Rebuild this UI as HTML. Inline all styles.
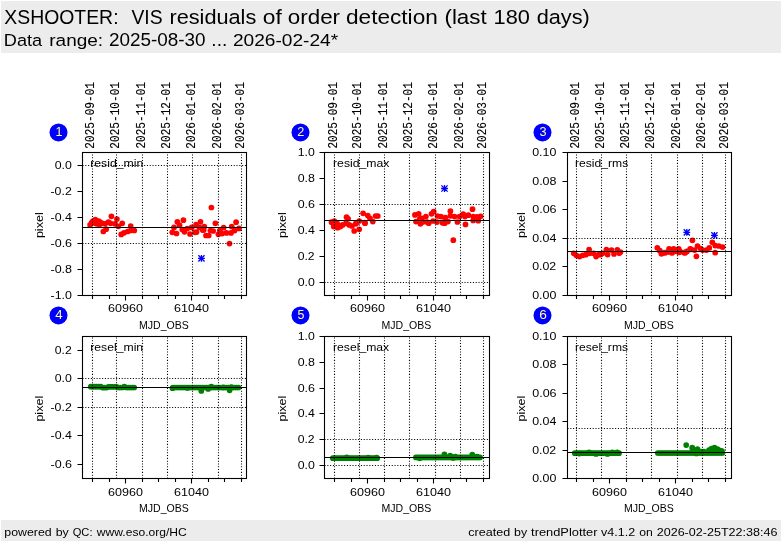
<!DOCTYPE html>
<html><head><meta charset="utf-8"><title>XSHOOTER VIS residuals</title>
<style>html,body{margin:0;padding:0;background:#fff;}body{width:782px;height:542px;overflow:hidden;font-family:"Liberation Sans",sans-serif;}svg{display:block;will-change:transform;}</style>
</head><body>
<svg width="782" height="542" viewBox="0 0 782 542"><rect x="1" y="1" width="780" height="52" fill="#ececec"/>
<rect x="1" y="520" width="780" height="21" fill="#ececec"/>
<text x="4.27" y="23.80" font-family="'Liberation Sans', sans-serif" font-size="20.28" fill="#000" textLength="114.26" lengthAdjust="spacingAndGlyphs">XSHOOTER:</text>
<text x="131.50" y="23.80" font-family="'Liberation Sans', sans-serif" font-size="20.28" fill="#000" textLength="31.12" lengthAdjust="spacingAndGlyphs">VIS</text>
<text x="169.42" y="23.80" font-family="'Liberation Sans', sans-serif" font-size="20.28" fill="#000" textLength="86.88" lengthAdjust="spacingAndGlyphs">residuals</text>
<text x="262.78" y="23.80" font-family="'Liberation Sans', sans-serif" font-size="20.28" fill="#000" textLength="19.03" lengthAdjust="spacingAndGlyphs">of</text>
<text x="287.79" y="23.80" font-family="'Liberation Sans', sans-serif" font-size="20.28" fill="#000" textLength="52.26" lengthAdjust="spacingAndGlyphs">order</text>
<text x="345.98" y="23.80" font-family="'Liberation Sans', sans-serif" font-size="20.28" fill="#000" textLength="91.83" lengthAdjust="spacingAndGlyphs">detection</text>
<text x="444.44" y="23.80" font-family="'Liberation Sans', sans-serif" font-size="20.28" fill="#000" textLength="42.24" lengthAdjust="spacingAndGlyphs">(last</text>
<text x="493.61" y="23.80" font-family="'Liberation Sans', sans-serif" font-size="20.67" fill="#000" textLength="36.33" lengthAdjust="spacingAndGlyphs">180</text>
<text x="536.70" y="23.80" font-family="'Liberation Sans', sans-serif" font-size="20.28" fill="#000" textLength="53.13" lengthAdjust="spacingAndGlyphs">days)</text>
<text x="3.84" y="46.10" font-family="'Liberation Sans', sans-serif" font-size="17.40" fill="#000" textLength="38.31" lengthAdjust="spacingAndGlyphs">Data</text>
<text x="49.26" y="46.10" font-family="'Liberation Sans', sans-serif" font-size="17.40" fill="#000" textLength="53.89" lengthAdjust="spacingAndGlyphs">range:</text>
<text x="108.98" y="46.10" font-family="'Liberation Sans', sans-serif" font-size="17.73" fill="#000" textLength="96.64" lengthAdjust="spacingAndGlyphs">2025-08-30</text>
<text x="211.39" y="46.10" font-family="'Liberation Sans', sans-serif" font-size="17.73" fill="#000" textLength="15.88" lengthAdjust="spacingAndGlyphs">...</text>
<text x="232.92" y="46.10" font-family="'Liberation Sans', sans-serif" font-size="17.40" fill="#000" textLength="105.29" lengthAdjust="spacingAndGlyphs">2026-02-24*</text>
<text x="4.25" y="535.80" font-family="'Liberation Sans', sans-serif" font-size="11.55" fill="#000" textLength="47.45" lengthAdjust="spacingAndGlyphs">powered</text>
<text x="55.72" y="535.80" font-family="'Liberation Sans', sans-serif" font-size="11.55" fill="#000" textLength="13.10" lengthAdjust="spacingAndGlyphs">by</text>
<text x="72.73" y="535.80" font-family="'Liberation Sans', sans-serif" font-size="11.55" fill="#000" textLength="19.78" lengthAdjust="spacingAndGlyphs">QC:</text>
<text x="96.87" y="535.80" font-family="'Liberation Sans', sans-serif" font-size="11.55" fill="#000" textLength="89.88" lengthAdjust="spacingAndGlyphs">www.eso.org/HC</text>
<text x="468.16" y="535.80" font-family="'Liberation Sans', sans-serif" font-size="11.55" fill="#000" textLength="41.98" lengthAdjust="spacingAndGlyphs">created</text>
<text x="514.11" y="535.80" font-family="'Liberation Sans', sans-serif" font-size="11.55" fill="#000" textLength="13.10" lengthAdjust="spacingAndGlyphs">by</text>
<text x="531.09" y="535.80" font-family="'Liberation Sans', sans-serif" font-size="11.55" fill="#000" textLength="66.39" lengthAdjust="spacingAndGlyphs">trendPlotter</text>
<text x="601.08" y="535.80" font-family="'Liberation Sans', sans-serif" font-size="11.55" fill="#000" textLength="34.06" lengthAdjust="spacingAndGlyphs">v4.1.2</text>
<text x="639.24" y="535.80" font-family="'Liberation Sans', sans-serif" font-size="11.55" fill="#000" textLength="13.56" lengthAdjust="spacingAndGlyphs">on</text>
<text x="656.68" y="535.80" font-family="'Liberation Sans', sans-serif" font-size="11.55" fill="#000" textLength="120.83" lengthAdjust="spacingAndGlyphs">2026-02-25T22:38:46</text>
<g fill="#ff0000">
<circle cx="96.5" cy="223.8" r="2.85"/>
<circle cx="99.5" cy="224.5" r="2.85"/>
<circle cx="94.0" cy="223.0" r="2.85"/>
<circle cx="90.1" cy="224.9" r="2.85"/>
<circle cx="91.7" cy="222.7" r="2.85"/>
<circle cx="93.0" cy="221.0" r="2.85"/>
<circle cx="95.3" cy="219.7" r="2.85"/>
<circle cx="98.7" cy="221.0" r="2.85"/>
<circle cx="100.0" cy="222.0" r="2.85"/>
<circle cx="102.3" cy="223.3" r="2.85"/>
<circle cx="105.0" cy="223.8" r="2.85"/>
<circle cx="103.3" cy="231.5" r="2.85"/>
<circle cx="106.1" cy="229.2" r="2.85"/>
<circle cx="108.3" cy="222.2" r="2.85"/>
<circle cx="111.4" cy="216.3" r="2.85"/>
<circle cx="110.6" cy="223.3" r="2.85"/>
<circle cx="116.9" cy="219.1" r="2.85"/>
<circle cx="115.0" cy="223.8" r="2.85"/>
<circle cx="118.4" cy="226.3" r="2.85"/>
<circle cx="122.2" cy="223.3" r="2.85"/>
<circle cx="121.2" cy="234.4" r="2.85"/>
<circle cx="124.0" cy="232.8" r="2.85"/>
<circle cx="127.6" cy="231.5" r="2.85"/>
<circle cx="130.7" cy="230.5" r="2.85"/>
<circle cx="134.3" cy="230.5" r="2.85"/>
<circle cx="130.7" cy="226.0" r="2.85"/>
<circle cx="172.3" cy="232.3" r="2.85"/>
<circle cx="174.0" cy="227.4" r="2.85"/>
<circle cx="176.5" cy="233.5" r="2.85"/>
<circle cx="177.3" cy="221.8" r="2.85"/>
<circle cx="179.5" cy="225.2" r="2.85"/>
<circle cx="183.4" cy="220.2" r="2.85"/>
<circle cx="182.3" cy="229.6" r="2.85"/>
<circle cx="184.5" cy="231.8" r="2.85"/>
<circle cx="187.2" cy="228.5" r="2.85"/>
<circle cx="190.0" cy="234.0" r="2.85"/>
<circle cx="191.7" cy="227.4" r="2.85"/>
<circle cx="195.0" cy="232.3" r="2.85"/>
<circle cx="196.1" cy="224.6" r="2.85"/>
<circle cx="200.5" cy="221.8" r="2.85"/>
<circle cx="199.4" cy="227.4" r="2.85"/>
<circle cx="202.7" cy="230.1" r="2.85"/>
<circle cx="196.6" cy="232.1" r="2.85"/>
<circle cx="204.3" cy="226.6" r="2.85"/>
<circle cx="203.7" cy="229.9" r="2.85"/>
<circle cx="206.0" cy="235.5" r="2.85"/>
<circle cx="208.7" cy="235.5" r="2.85"/>
<circle cx="210.4" cy="230.5" r="2.85"/>
<circle cx="213.2" cy="231.0" r="2.85"/>
<circle cx="215.4" cy="223.3" r="2.85"/>
<circle cx="218.4" cy="234.3" r="2.85"/>
<circle cx="219.8" cy="230.5" r="2.85"/>
<circle cx="222.1" cy="233.6" r="2.85"/>
<circle cx="223.6" cy="227.7" r="2.85"/>
<circle cx="226.5" cy="232.9" r="2.85"/>
<circle cx="231.0" cy="232.9" r="2.85"/>
<circle cx="231.7" cy="226.6" r="2.85"/>
<circle cx="236.1" cy="222.2" r="2.85"/>
<circle cx="239.1" cy="228.4" r="2.85"/>
<circle cx="234.6" cy="230.6" r="2.85"/>
<circle cx="211.4" cy="207.5" r="2.85"/>
<circle cx="229.5" cy="243.6" r="2.85"/>
</g>
<path d="M92.5 295.5V152.5M116.5 295.5V152.5M142.5 295.5V152.5M167.5 295.5V152.5M192.5 295.5V152.5M218.5 295.5V152.5M241.5 295.5V152.5M82.5 165.5H246.5M82.5 243.5H246.5" stroke="#000" stroke-width="1.1" stroke-dasharray="1.06 1.74" fill="none"/>
<path d="M82.5 227.5H246.5" stroke="#000" stroke-width="1.2" fill="none"/>
<path d="M198.04999999999998 258.4H204.85M201.45 254.99999999999997V261.79999999999995M198.35 255.29999999999998L204.54999999999998 261.5M198.35 261.5L204.54999999999998 255.29999999999998" stroke="#0000ff" stroke-width="1.3" fill="none"/>
<rect x="82.5" y="152.5" width="164.0" height="143.0" fill="none" stroke="#000" stroke-width="1.1"/>
<path d="M92.5 295.5v3.4M109.5 295.5v3.4M125.5 295.5v5.0M142.5 295.5v3.4M158.5 295.5v3.4M175.5 295.5v3.4M191.5 295.5v5.0M208.5 295.5v3.4M224.5 295.5v3.4M241.5 295.5v3.4M82.5 165.5h-5.0M82.5 191.5h-5.0M82.5 217.5h-5.0M82.5 243.5h-5.0M82.5 269.5h-5.0M82.5 295.5h-5.0" stroke="#000" stroke-width="1.1" fill="none"/>
<text x="54.78" y="168.95" font-family="'Liberation Sans', sans-serif" font-size="11.78" fill="#000" textLength="17.14" lengthAdjust="spacingAndGlyphs">0.0</text>
<text x="50.52" y="194.95" font-family="'Liberation Sans', sans-serif" font-size="11.78" fill="#000" textLength="21.23" lengthAdjust="spacingAndGlyphs">-0.2</text>
<text x="50.51" y="220.95" font-family="'Liberation Sans', sans-serif" font-size="11.78" fill="#000" textLength="21.43" lengthAdjust="spacingAndGlyphs">-0.4</text>
<text x="50.51" y="246.95" font-family="'Liberation Sans', sans-serif" font-size="11.78" fill="#000" textLength="21.60" lengthAdjust="spacingAndGlyphs">-0.6</text>
<text x="50.51" y="272.95" font-family="'Liberation Sans', sans-serif" font-size="11.78" fill="#000" textLength="21.54" lengthAdjust="spacingAndGlyphs">-0.8</text>
<text x="50.51" y="298.95" font-family="'Liberation Sans', sans-serif" font-size="11.78" fill="#000" textLength="21.43" lengthAdjust="spacingAndGlyphs">-1.0</text>
<text x="108.01" y="312.00" font-family="'Liberation Sans', sans-serif" font-size="11.78" fill="#000" textLength="34.87" lengthAdjust="spacingAndGlyphs">60960</text>
<text x="174.01" y="312.00" font-family="'Liberation Sans', sans-serif" font-size="11.78" fill="#000" textLength="34.87" lengthAdjust="spacingAndGlyphs">61040</text>
<text x="139.05" y="328.80" font-family="'Liberation Sans', sans-serif" font-size="11.55" fill="#000" textLength="49.78" lengthAdjust="spacingAndGlyphs">MJD_OBS</text>
<text x="29.90" y="225.20" font-family="'Liberation Sans', sans-serif" font-size="11.55" fill="#000" textLength="25.83" lengthAdjust="spacingAndGlyphs" transform="rotate(-90 42.80 225.20)">pixel</text>
<text x="90.20" y="166.70" font-family="'Liberation Sans', sans-serif" font-size="11.55" fill="#000" textLength="53.16" lengthAdjust="spacingAndGlyphs">resid_min</text>
<text x="93.93" y="148.65" font-family="'Liberation Mono', monospace" font-size="12.32" fill="#000" textLength="66.57" lengthAdjust="spacingAndGlyphs" transform="rotate(-90 93.90 148.65)" stroke="#000" stroke-width="0.12">2025-09-01</text>
<text x="118.93" y="148.65" font-family="'Liberation Mono', monospace" font-size="12.32" fill="#000" textLength="66.57" lengthAdjust="spacingAndGlyphs" transform="rotate(-90 118.90 148.65)" stroke="#000" stroke-width="0.12">2025-10-01</text>
<text x="144.83" y="148.65" font-family="'Liberation Mono', monospace" font-size="12.32" fill="#000" textLength="66.57" lengthAdjust="spacingAndGlyphs" transform="rotate(-90 144.80 148.65)" stroke="#000" stroke-width="0.12">2025-11-01</text>
<text x="169.73" y="148.65" font-family="'Liberation Mono', monospace" font-size="12.32" fill="#000" textLength="66.57" lengthAdjust="spacingAndGlyphs" transform="rotate(-90 169.70 148.65)" stroke="#000" stroke-width="0.12">2025-12-01</text>
<text x="194.98" y="148.65" font-family="'Liberation Mono', monospace" font-size="12.32" fill="#000" textLength="66.57" lengthAdjust="spacingAndGlyphs" transform="rotate(-90 194.95 148.65)" stroke="#000" stroke-width="0.12">2026-01-01</text>
<text x="220.73" y="148.65" font-family="'Liberation Mono', monospace" font-size="12.32" fill="#000" textLength="66.57" lengthAdjust="spacingAndGlyphs" transform="rotate(-90 220.70 148.65)" stroke="#000" stroke-width="0.12">2026-02-01</text>
<text x="244.03" y="148.65" font-family="'Liberation Mono', monospace" font-size="12.32" fill="#000" textLength="66.57" lengthAdjust="spacingAndGlyphs" transform="rotate(-90 244.00 148.65)" stroke="#000" stroke-width="0.12">2026-03-01</text>
<circle cx="58.5" cy="132.4" r="9" fill="#0000ff"/>
<text x="55.43" y="136.00" font-family="'Liberation Sans', sans-serif" font-size="13.25" fill="#ffff99" textLength="6.98" lengthAdjust="spacingAndGlyphs">1</text>
<g fill="#ff0000">
<circle cx="331.5" cy="222.2" r="2.85"/>
<circle cx="334.3" cy="221.0" r="2.85"/>
<circle cx="333.7" cy="226.6" r="2.85"/>
<circle cx="337.1" cy="223.3" r="2.85"/>
<circle cx="337.6" cy="227.7" r="2.85"/>
<circle cx="340.4" cy="226.6" r="2.85"/>
<circle cx="342.6" cy="224.9" r="2.85"/>
<circle cx="346.5" cy="217.2" r="2.85"/>
<circle cx="348.1" cy="218.8" r="2.85"/>
<circle cx="345.9" cy="223.3" r="2.85"/>
<circle cx="349.2" cy="224.9" r="2.85"/>
<circle cx="352.0" cy="226.0" r="2.85"/>
<circle cx="354.2" cy="231.0" r="2.85"/>
<circle cx="355.9" cy="223.8" r="2.85"/>
<circle cx="359.2" cy="221.0" r="2.85"/>
<circle cx="359.2" cy="229.3" r="2.85"/>
<circle cx="363.1" cy="213.3" r="2.85"/>
<circle cx="364.7" cy="222.7" r="2.85"/>
<circle cx="367.8" cy="215.5" r="2.85"/>
<circle cx="370.0" cy="218.3" r="2.85"/>
<circle cx="372.8" cy="221.6" r="2.85"/>
<circle cx="375.6" cy="216.0" r="2.85"/>
<circle cx="377.8" cy="216.0" r="2.85"/>
<circle cx="365.1" cy="223.2" r="2.85"/>
<circle cx="356.2" cy="223.2" r="2.85"/>
<circle cx="414.9" cy="214.9" r="2.85"/>
<circle cx="422.1" cy="218.3" r="2.85"/>
<circle cx="418.7" cy="213.8" r="2.85"/>
<circle cx="416.0" cy="221.6" r="2.85"/>
<circle cx="419.8" cy="218.8" r="2.85"/>
<circle cx="420.4" cy="223.8" r="2.85"/>
<circle cx="422.6" cy="222.1" r="2.85"/>
<circle cx="425.9" cy="216.6" r="2.85"/>
<circle cx="427.0" cy="222.1" r="2.85"/>
<circle cx="428.7" cy="223.2" r="2.85"/>
<circle cx="431.5" cy="213.8" r="2.85"/>
<circle cx="433.7" cy="211.6" r="2.85"/>
<circle cx="433.1" cy="221.0" r="2.85"/>
<circle cx="437.5" cy="216.0" r="2.85"/>
<circle cx="437.0" cy="222.1" r="2.85"/>
<circle cx="440.9" cy="216.6" r="2.85"/>
<circle cx="442.5" cy="222.7" r="2.85"/>
<circle cx="445.3" cy="217.7" r="2.85"/>
<circle cx="444.7" cy="223.2" r="2.85"/>
<circle cx="443.3" cy="222.4" r="2.85"/>
<circle cx="447.9" cy="221.6" r="2.85"/>
<circle cx="450.4" cy="211.2" r="2.85"/>
<circle cx="450.4" cy="215.8" r="2.85"/>
<circle cx="454.5" cy="216.6" r="2.85"/>
<circle cx="457.4" cy="222.0" r="2.85"/>
<circle cx="459.5" cy="216.6" r="2.85"/>
<circle cx="463.2" cy="214.1" r="2.85"/>
<circle cx="464.9" cy="216.6" r="2.85"/>
<circle cx="465.5" cy="224.4" r="2.85"/>
<circle cx="468.3" cy="215.2" r="2.85"/>
<circle cx="472.5" cy="209.2" r="2.85"/>
<circle cx="473.2" cy="216.5" r="2.85"/>
<circle cx="473.2" cy="220.5" r="2.85"/>
<circle cx="476.8" cy="216.9" r="2.85"/>
<circle cx="478.3" cy="220.7" r="2.85"/>
<circle cx="480.6" cy="216.3" r="2.85"/>
<circle cx="453.3" cy="240.2" r="2.85"/>
</g>
<path d="M334.5 295.5V152.5M359.5 295.5V152.5M384.5 295.5V152.5M409.5 295.5V152.5M435.5 295.5V152.5M460.5 295.5V152.5M483.5 295.5V152.5M324.5 204.5H489.5M324.5 282.5H489.5" stroke="#000" stroke-width="1.1" stroke-dasharray="1.06 1.74" fill="none"/>
<path d="M324.5 220.5H489.5" stroke="#000" stroke-width="1.2" fill="none"/>
<path d="M441.1 188.5H447.9M444.5 185.1V191.9M441.4 185.4L447.6 191.6M441.4 191.6L447.6 185.4" stroke="#0000ff" stroke-width="1.3" fill="none"/>
<rect x="324.5" y="152.5" width="165.0" height="143.0" fill="none" stroke="#000" stroke-width="1.1"/>
<path d="M334.5 295.5v3.4M351.5 295.5v3.4M367.5 295.5v5.0M384.5 295.5v3.4M400.5 295.5v3.4M417.5 295.5v3.4M433.5 295.5v5.0M450.5 295.5v3.4M466.5 295.5v3.4M483.5 295.5v3.4M324.5 152.5h-5.0M324.5 178.5h-5.0M324.5 204.5h-5.0M324.5 230.5h-5.0M324.5 256.5h-5.0M324.5 282.5h-5.0" stroke="#000" stroke-width="1.1" fill="none"/>
<text x="297.76" y="155.95" font-family="'Liberation Sans', sans-serif" font-size="11.78" fill="#000" textLength="17.05" lengthAdjust="spacingAndGlyphs">1.0</text>
<text x="297.67" y="181.95" font-family="'Liberation Sans', sans-serif" font-size="11.78" fill="#000" textLength="17.25" lengthAdjust="spacingAndGlyphs">0.8</text>
<text x="297.67" y="207.95" font-family="'Liberation Sans', sans-serif" font-size="11.78" fill="#000" textLength="17.31" lengthAdjust="spacingAndGlyphs">0.6</text>
<text x="297.68" y="233.95" font-family="'Liberation Sans', sans-serif" font-size="11.78" fill="#000" textLength="17.14" lengthAdjust="spacingAndGlyphs">0.4</text>
<text x="297.68" y="259.95" font-family="'Liberation Sans', sans-serif" font-size="11.78" fill="#000" textLength="16.94" lengthAdjust="spacingAndGlyphs">0.2</text>
<text x="297.68" y="285.95" font-family="'Liberation Sans', sans-serif" font-size="11.78" fill="#000" textLength="17.14" lengthAdjust="spacingAndGlyphs">0.0</text>
<text x="350.01" y="312.00" font-family="'Liberation Sans', sans-serif" font-size="11.78" fill="#000" textLength="34.87" lengthAdjust="spacingAndGlyphs">60960</text>
<text x="416.01" y="312.00" font-family="'Liberation Sans', sans-serif" font-size="11.78" fill="#000" textLength="34.87" lengthAdjust="spacingAndGlyphs">61040</text>
<text x="381.55" y="328.80" font-family="'Liberation Sans', sans-serif" font-size="11.55" fill="#000" textLength="49.78" lengthAdjust="spacingAndGlyphs">MJD_OBS</text>
<text x="273.00" y="225.20" font-family="'Liberation Sans', sans-serif" font-size="11.55" fill="#000" textLength="25.83" lengthAdjust="spacingAndGlyphs" transform="rotate(-90 285.90 225.20)">pixel</text>
<text x="333.01" y="166.70" font-family="'Liberation Sans', sans-serif" font-size="11.55" fill="#000" textLength="56.43" lengthAdjust="spacingAndGlyphs">resid_max</text>
<text x="336.83" y="148.65" font-family="'Liberation Mono', monospace" font-size="12.32" fill="#000" textLength="66.57" lengthAdjust="spacingAndGlyphs" transform="rotate(-90 336.80 148.65)" stroke="#000" stroke-width="0.12">2025-09-01</text>
<text x="360.93" y="148.65" font-family="'Liberation Mono', monospace" font-size="12.32" fill="#000" textLength="66.57" lengthAdjust="spacingAndGlyphs" transform="rotate(-90 360.90 148.65)" stroke="#000" stroke-width="0.12">2025-10-01</text>
<text x="386.83" y="148.65" font-family="'Liberation Mono', monospace" font-size="12.32" fill="#000" textLength="66.57" lengthAdjust="spacingAndGlyphs" transform="rotate(-90 386.80 148.65)" stroke="#000" stroke-width="0.12">2025-11-01</text>
<text x="411.73" y="148.65" font-family="'Liberation Mono', monospace" font-size="12.32" fill="#000" textLength="66.57" lengthAdjust="spacingAndGlyphs" transform="rotate(-90 411.70 148.65)" stroke="#000" stroke-width="0.12">2025-12-01</text>
<text x="436.98" y="148.65" font-family="'Liberation Mono', monospace" font-size="12.32" fill="#000" textLength="66.57" lengthAdjust="spacingAndGlyphs" transform="rotate(-90 436.95 148.65)" stroke="#000" stroke-width="0.12">2026-01-01</text>
<text x="462.73" y="148.65" font-family="'Liberation Mono', monospace" font-size="12.32" fill="#000" textLength="66.57" lengthAdjust="spacingAndGlyphs" transform="rotate(-90 462.70 148.65)" stroke="#000" stroke-width="0.12">2026-02-01</text>
<text x="486.03" y="148.65" font-family="'Liberation Mono', monospace" font-size="12.32" fill="#000" textLength="66.57" lengthAdjust="spacingAndGlyphs" transform="rotate(-90 486.00 148.65)" stroke="#000" stroke-width="0.12">2026-03-01</text>
<circle cx="300.5" cy="132.4" r="9" fill="#0000ff"/>
<text x="297.30" y="136.00" font-family="'Liberation Sans', sans-serif" font-size="13.25" fill="#ffff99" textLength="7.07" lengthAdjust="spacingAndGlyphs">2</text>
<g fill="#ff0000">
<circle cx="573.8" cy="253.4" r="2.85"/>
<circle cx="576.3" cy="255.3" r="2.85"/>
<circle cx="579.5" cy="256.6" r="2.85"/>
<circle cx="582.7" cy="255.3" r="2.85"/>
<circle cx="585.9" cy="254.7" r="2.85"/>
<circle cx="589.1" cy="249.6" r="2.85"/>
<circle cx="589.7" cy="253.4" r="2.85"/>
<circle cx="593.6" cy="253.4" r="2.85"/>
<circle cx="596.1" cy="256.6" r="2.85"/>
<circle cx="598.7" cy="254.7" r="2.85"/>
<circle cx="600.6" cy="254.6" r="2.85"/>
<circle cx="602.5" cy="253.4" r="2.85"/>
<circle cx="606.4" cy="249.7" r="2.85"/>
<circle cx="607.6" cy="254.6" r="2.85"/>
<circle cx="611.5" cy="250.1" r="2.85"/>
<circle cx="614.0" cy="254.0" r="2.85"/>
<circle cx="617.3" cy="249.8" r="2.85"/>
<circle cx="619.2" cy="253.3" r="2.85"/>
<circle cx="620.5" cy="252.1" r="2.85"/>
<circle cx="657.3" cy="247.8" r="2.85"/>
<circle cx="659.8" cy="250.7" r="2.85"/>
<circle cx="661.4" cy="253.9" r="2.85"/>
<circle cx="664.0" cy="252.6" r="2.85"/>
<circle cx="667.2" cy="252.0" r="2.85"/>
<circle cx="669.1" cy="248.8" r="2.85"/>
<circle cx="670.4" cy="252.0" r="2.85"/>
<circle cx="673.6" cy="248.8" r="2.85"/>
<circle cx="674.9" cy="251.3" r="2.85"/>
<circle cx="678.7" cy="248.8" r="2.85"/>
<circle cx="680.0" cy="251.3" r="2.85"/>
<circle cx="683.8" cy="252.6" r="2.85"/>
<circle cx="686.5" cy="251.5" r="2.85"/>
<circle cx="687.0" cy="251.3" r="2.85"/>
<circle cx="690.2" cy="248.8" r="2.85"/>
<circle cx="690.9" cy="249.3" r="2.85"/>
<circle cx="692.4" cy="240.3" r="2.85"/>
<circle cx="694.6" cy="250.1" r="2.85"/>
<circle cx="697.5" cy="246.0" r="2.85"/>
<circle cx="696.4" cy="256.3" r="2.85"/>
<circle cx="700.5" cy="248.6" r="2.85"/>
<circle cx="702.7" cy="250.1" r="2.85"/>
<circle cx="706.4" cy="250.1" r="2.85"/>
<circle cx="709.3" cy="247.9" r="2.85"/>
<circle cx="712.3" cy="242.3" r="2.85"/>
<circle cx="715.2" cy="245.6" r="2.85"/>
<circle cx="715.2" cy="252.7" r="2.85"/>
<circle cx="718.9" cy="246.0" r="2.85"/>
<circle cx="722.6" cy="247.1" r="2.85"/>
<circle cx="665.0" cy="253.0" r="2.85"/>
<circle cx="672.0" cy="253.0" r="2.85"/>
<circle cx="679.0" cy="252.5" r="2.85"/>
<circle cx="685.0" cy="253.0" r="2.85"/>
</g>
<path d="M576.5 295.5V152.5M601.5 295.5V152.5M626.5 295.5V152.5M651.5 295.5V152.5M677.5 295.5V152.5M702.5 295.5V152.5M725.5 295.5V152.5M567.5 238.5H731.5" stroke="#000" stroke-width="1.1" stroke-dasharray="1.06 1.74" fill="none"/>
<path d="M567.5 251.5H731.5" stroke="#000" stroke-width="1.2" fill="none"/>
<path d="M683.4 232.4H690.1999999999999M686.8 229.0V235.8M683.6999999999999 229.3L689.9 235.5M683.6999999999999 235.5L689.9 229.3" stroke="#0000ff" stroke-width="1.3" fill="none"/>
<path d="M711.0 235.3H717.8M714.4 231.9V238.70000000000002M711.3 232.20000000000002L717.5 238.4M711.3 238.4L717.5 232.20000000000002" stroke="#0000ff" stroke-width="1.3" fill="none"/>
<rect x="567.5" y="152.5" width="164.0" height="143.0" fill="none" stroke="#000" stroke-width="1.1"/>
<path d="M576.5 295.5v3.4M593.5 295.5v3.4M609.5 295.5v5.0M626.5 295.5v3.4M642.5 295.5v3.4M659.5 295.5v3.4M675.5 295.5v5.0M692.5 295.5v3.4M708.5 295.5v3.4M725.5 295.5v3.4M567.5 152.5h-5.0M567.5 181.5h-5.0M567.5 209.5h-5.0M567.5 238.5h-5.0M567.5 266.5h-5.0M567.5 295.5h-5.0" stroke="#000" stroke-width="1.1" fill="none"/>
<text x="532.21" y="155.95" font-family="'Liberation Sans', sans-serif" font-size="11.78" fill="#000" textLength="24.21" lengthAdjust="spacingAndGlyphs">0.10</text>
<text x="532.21" y="184.95" font-family="'Liberation Sans', sans-serif" font-size="11.78" fill="#000" textLength="24.32" lengthAdjust="spacingAndGlyphs">0.08</text>
<text x="532.21" y="212.95" font-family="'Liberation Sans', sans-serif" font-size="11.78" fill="#000" textLength="24.37" lengthAdjust="spacingAndGlyphs">0.06</text>
<text x="532.21" y="241.95" font-family="'Liberation Sans', sans-serif" font-size="11.78" fill="#000" textLength="24.21" lengthAdjust="spacingAndGlyphs">0.04</text>
<text x="532.21" y="269.95" font-family="'Liberation Sans', sans-serif" font-size="11.78" fill="#000" textLength="24.01" lengthAdjust="spacingAndGlyphs">0.02</text>
<text x="532.21" y="298.95" font-family="'Liberation Sans', sans-serif" font-size="11.78" fill="#000" textLength="24.21" lengthAdjust="spacingAndGlyphs">0.00</text>
<text x="592.01" y="312.00" font-family="'Liberation Sans', sans-serif" font-size="11.78" fill="#000" textLength="34.87" lengthAdjust="spacingAndGlyphs">60960</text>
<text x="658.01" y="312.00" font-family="'Liberation Sans', sans-serif" font-size="11.78" fill="#000" textLength="34.87" lengthAdjust="spacingAndGlyphs">61040</text>
<text x="624.05" y="328.80" font-family="'Liberation Sans', sans-serif" font-size="11.55" fill="#000" textLength="49.78" lengthAdjust="spacingAndGlyphs">MJD_OBS</text>
<text x="512.10" y="225.20" font-family="'Liberation Sans', sans-serif" font-size="11.55" fill="#000" textLength="25.83" lengthAdjust="spacingAndGlyphs" transform="rotate(-90 525.00 225.20)">pixel</text>
<text x="575.01" y="166.70" font-family="'Liberation Sans', sans-serif" font-size="11.55" fill="#000" textLength="53.20" lengthAdjust="spacingAndGlyphs">resid_rms</text>
<text x="578.83" y="148.65" font-family="'Liberation Mono', monospace" font-size="12.32" fill="#000" textLength="66.57" lengthAdjust="spacingAndGlyphs" transform="rotate(-90 578.80 148.65)" stroke="#000" stroke-width="0.12">2025-09-01</text>
<text x="604.03" y="148.65" font-family="'Liberation Mono', monospace" font-size="12.32" fill="#000" textLength="66.57" lengthAdjust="spacingAndGlyphs" transform="rotate(-90 604.00 148.65)" stroke="#000" stroke-width="0.12">2025-10-01</text>
<text x="628.83" y="148.65" font-family="'Liberation Mono', monospace" font-size="12.32" fill="#000" textLength="66.57" lengthAdjust="spacingAndGlyphs" transform="rotate(-90 628.80 148.65)" stroke="#000" stroke-width="0.12">2025-11-01</text>
<text x="653.73" y="148.65" font-family="'Liberation Mono', monospace" font-size="12.32" fill="#000" textLength="66.57" lengthAdjust="spacingAndGlyphs" transform="rotate(-90 653.70 148.65)" stroke="#000" stroke-width="0.12">2025-12-01</text>
<text x="680.23" y="148.65" font-family="'Liberation Mono', monospace" font-size="12.32" fill="#000" textLength="66.57" lengthAdjust="spacingAndGlyphs" transform="rotate(-90 680.20 148.65)" stroke="#000" stroke-width="0.12">2026-01-01</text>
<text x="704.73" y="148.65" font-family="'Liberation Mono', monospace" font-size="12.32" fill="#000" textLength="66.57" lengthAdjust="spacingAndGlyphs" transform="rotate(-90 704.70 148.65)" stroke="#000" stroke-width="0.12">2026-02-01</text>
<text x="728.03" y="148.65" font-family="'Liberation Mono', monospace" font-size="12.32" fill="#000" textLength="66.57" lengthAdjust="spacingAndGlyphs" transform="rotate(-90 728.00 148.65)" stroke="#000" stroke-width="0.12">2026-03-01</text>
<circle cx="542.5" cy="132.4" r="9" fill="#0000ff"/>
<text x="539.49" y="136.00" font-family="'Liberation Sans', sans-serif" font-size="13.25" fill="#ffff99" textLength="7.08" lengthAdjust="spacingAndGlyphs">3</text>
<g fill="#008000">
<circle cx="90.8" cy="386.7" r="2.85"/>
<circle cx="92.8" cy="386.7" r="2.85"/>
<circle cx="94.8" cy="386.7" r="2.85"/>
<circle cx="96.7" cy="386.7" r="2.85"/>
<circle cx="98.7" cy="386.7" r="2.85"/>
<circle cx="100.7" cy="386.7" r="2.85"/>
<circle cx="102.6" cy="387.6" r="2.85"/>
<circle cx="104.6" cy="387.6" r="2.85"/>
<circle cx="106.6" cy="387.6" r="2.85"/>
<circle cx="108.5" cy="386.8" r="2.85"/>
<circle cx="110.5" cy="386.8" r="2.85"/>
<circle cx="112.5" cy="386.8" r="2.85"/>
<circle cx="114.5" cy="386.8" r="2.85"/>
<circle cx="116.5" cy="386.8" r="2.85"/>
<circle cx="118.4" cy="387.5" r="2.85"/>
<circle cx="120.4" cy="387.5" r="2.85"/>
<circle cx="122.4" cy="387.5" r="2.85"/>
<circle cx="124.3" cy="386.6" r="2.85"/>
<circle cx="126.3" cy="387.5" r="2.85"/>
<circle cx="128.3" cy="387.5" r="2.85"/>
<circle cx="130.2" cy="387.5" r="2.85"/>
<circle cx="132.2" cy="387.5" r="2.85"/>
<circle cx="134.2" cy="387.5" r="2.85"/>
<circle cx="173.0" cy="387.5" r="2.85"/>
<circle cx="175.0" cy="387.5" r="2.85"/>
<circle cx="177.0" cy="387.5" r="2.85"/>
<circle cx="178.9" cy="387.5" r="2.85"/>
<circle cx="180.9" cy="387.5" r="2.85"/>
<circle cx="182.9" cy="387.5" r="2.85"/>
<circle cx="184.9" cy="387.5" r="2.85"/>
<circle cx="186.9" cy="387.5" r="2.85"/>
<circle cx="188.9" cy="387.5" r="2.85"/>
<circle cx="190.9" cy="387.5" r="2.85"/>
<circle cx="192.8" cy="387.5" r="2.85"/>
<circle cx="194.8" cy="387.5" r="2.85"/>
<circle cx="196.8" cy="387.5" r="2.85"/>
<circle cx="198.8" cy="387.5" r="2.85"/>
<circle cx="200.8" cy="387.5" r="2.85"/>
<circle cx="202.8" cy="387.5" r="2.85"/>
<circle cx="204.8" cy="387.5" r="2.85"/>
<circle cx="206.7" cy="387.5" r="2.85"/>
<circle cx="208.7" cy="387.5" r="2.85"/>
<circle cx="210.7" cy="387.5" r="2.85"/>
<circle cx="212.7" cy="387.5" r="2.85"/>
<circle cx="214.7" cy="387.5" r="2.85"/>
<circle cx="216.7" cy="387.5" r="2.85"/>
<circle cx="218.7" cy="387.5" r="2.85"/>
<circle cx="220.6" cy="387.5" r="2.85"/>
<circle cx="222.6" cy="387.5" r="2.85"/>
<circle cx="224.6" cy="387.5" r="2.85"/>
<circle cx="226.6" cy="387.5" r="2.85"/>
<circle cx="228.6" cy="387.5" r="2.85"/>
<circle cx="230.6" cy="387.5" r="2.85"/>
<circle cx="232.6" cy="387.5" r="2.85"/>
<circle cx="234.5" cy="387.5" r="2.85"/>
<circle cx="236.5" cy="387.5" r="2.85"/>
<circle cx="238.5" cy="387.5" r="2.85"/>
<circle cx="172.5" cy="388.2" r="2.85"/>
<circle cx="187.5" cy="388.0" r="2.85"/>
<circle cx="201.3" cy="391.0" r="2.85"/>
<circle cx="208.2" cy="389.0" r="2.85"/>
<circle cx="211.3" cy="386.5" r="2.85"/>
<circle cx="223.4" cy="387.4" r="2.85"/>
<circle cx="229.6" cy="390.3" r="2.85"/>
<circle cx="231.3" cy="387.2" r="2.85"/>
</g>
<path d="M92.5 478.5V336.5M116.5 478.5V336.5M142.5 478.5V336.5M167.5 478.5V336.5M192.5 478.5V336.5M218.5 478.5V336.5M241.5 478.5V336.5M82.5 378.5H246.5M82.5 407.5H246.5" stroke="#000" stroke-width="1.1" stroke-dasharray="1.06 1.74" fill="none"/>
<path d="M82.5 387.5H246.5" stroke="#000" stroke-width="1.2" fill="none"/>
<rect x="82.5" y="336.5" width="164.0" height="142.0" fill="none" stroke="#000" stroke-width="1.1"/>
<path d="M92.5 478.5v3.4M109.5 478.5v3.4M125.5 478.5v5.0M142.5 478.5v3.4M158.5 478.5v3.4M175.5 478.5v3.4M191.5 478.5v5.0M208.5 478.5v3.4M224.5 478.5v3.4M241.5 478.5v3.4M82.5 350.5h-5.0M82.5 378.5h-5.0M82.5 407.5h-5.0M82.5 435.5h-5.0M82.5 464.5h-5.0" stroke="#000" stroke-width="1.1" fill="none"/>
<text x="54.78" y="353.95" font-family="'Liberation Sans', sans-serif" font-size="11.78" fill="#000" textLength="16.94" lengthAdjust="spacingAndGlyphs">0.2</text>
<text x="54.78" y="381.95" font-family="'Liberation Sans', sans-serif" font-size="11.78" fill="#000" textLength="17.14" lengthAdjust="spacingAndGlyphs">0.0</text>
<text x="50.52" y="410.95" font-family="'Liberation Sans', sans-serif" font-size="11.78" fill="#000" textLength="21.23" lengthAdjust="spacingAndGlyphs">-0.2</text>
<text x="50.51" y="438.95" font-family="'Liberation Sans', sans-serif" font-size="11.78" fill="#000" textLength="21.43" lengthAdjust="spacingAndGlyphs">-0.4</text>
<text x="50.51" y="467.95" font-family="'Liberation Sans', sans-serif" font-size="11.78" fill="#000" textLength="21.60" lengthAdjust="spacingAndGlyphs">-0.6</text>
<text x="108.01" y="495.70" font-family="'Liberation Sans', sans-serif" font-size="11.78" fill="#000" textLength="34.87" lengthAdjust="spacingAndGlyphs">60960</text>
<text x="174.01" y="495.70" font-family="'Liberation Sans', sans-serif" font-size="11.78" fill="#000" textLength="34.87" lengthAdjust="spacingAndGlyphs">61040</text>
<text x="139.05" y="511.90" font-family="'Liberation Sans', sans-serif" font-size="11.55" fill="#000" textLength="49.78" lengthAdjust="spacingAndGlyphs">MJD_OBS</text>
<text x="29.90" y="408.70" font-family="'Liberation Sans', sans-serif" font-size="11.55" fill="#000" textLength="25.83" lengthAdjust="spacingAndGlyphs" transform="rotate(-90 42.80 408.70)">pixel</text>
<text x="90.21" y="350.70" font-family="'Liberation Sans', sans-serif" font-size="11.55" fill="#000" textLength="52.95" lengthAdjust="spacingAndGlyphs">resel_min</text>
<circle cx="58.5" cy="315.4" r="9" fill="#0000ff"/>
<text x="55.32" y="319.00" font-family="'Liberation Sans', sans-serif" font-size="13.25" fill="#ffff99" textLength="7.37" lengthAdjust="spacingAndGlyphs">4</text>
<g fill="#008000">
<circle cx="332.8" cy="458.2" r="2.85"/>
<circle cx="334.8" cy="458.2" r="2.85"/>
<circle cx="336.8" cy="458.2" r="2.85"/>
<circle cx="338.9" cy="458.2" r="2.85"/>
<circle cx="340.9" cy="458.2" r="2.85"/>
<circle cx="342.9" cy="458.2" r="2.85"/>
<circle cx="344.9" cy="458.2" r="2.85"/>
<circle cx="346.9" cy="458.2" r="2.85"/>
<circle cx="348.9" cy="458.2" r="2.85"/>
<circle cx="351.0" cy="458.2" r="2.85"/>
<circle cx="353.0" cy="458.2" r="2.85"/>
<circle cx="355.0" cy="458.2" r="2.85"/>
<circle cx="357.0" cy="458.2" r="2.85"/>
<circle cx="359.0" cy="458.2" r="2.85"/>
<circle cx="361.1" cy="458.2" r="2.85"/>
<circle cx="363.1" cy="458.2" r="2.85"/>
<circle cx="365.1" cy="458.2" r="2.85"/>
<circle cx="367.1" cy="458.2" r="2.85"/>
<circle cx="369.1" cy="458.2" r="2.85"/>
<circle cx="371.1" cy="458.2" r="2.85"/>
<circle cx="373.2" cy="458.2" r="2.85"/>
<circle cx="375.2" cy="458.2" r="2.85"/>
<circle cx="377.2" cy="458.2" r="2.85"/>
<circle cx="346.7" cy="457.4" r="2.85"/>
<circle cx="368.2" cy="457.7" r="2.85"/>
<circle cx="376.6" cy="457.7" r="2.85"/>
<circle cx="415.9" cy="457.4" r="2.85"/>
<circle cx="417.9" cy="457.4" r="2.85"/>
<circle cx="419.9" cy="457.4" r="2.85"/>
<circle cx="421.9" cy="457.4" r="2.85"/>
<circle cx="423.9" cy="457.4" r="2.85"/>
<circle cx="425.9" cy="457.4" r="2.85"/>
<circle cx="427.9" cy="457.4" r="2.85"/>
<circle cx="429.9" cy="457.4" r="2.85"/>
<circle cx="431.9" cy="457.4" r="2.85"/>
<circle cx="433.9" cy="457.4" r="2.85"/>
<circle cx="435.9" cy="457.4" r="2.85"/>
<circle cx="437.9" cy="457.4" r="2.85"/>
<circle cx="439.9" cy="457.4" r="2.85"/>
<circle cx="441.9" cy="457.4" r="2.85"/>
<circle cx="443.9" cy="457.4" r="2.85"/>
<circle cx="445.9" cy="457.4" r="2.85"/>
<circle cx="447.9" cy="457.4" r="2.85"/>
<circle cx="449.9" cy="457.4" r="2.85"/>
<circle cx="452.0" cy="457.4" r="2.85"/>
<circle cx="454.0" cy="457.4" r="2.85"/>
<circle cx="456.0" cy="457.4" r="2.85"/>
<circle cx="458.0" cy="457.4" r="2.85"/>
<circle cx="460.0" cy="457.4" r="2.85"/>
<circle cx="462.0" cy="457.4" r="2.85"/>
<circle cx="464.0" cy="457.4" r="2.85"/>
<circle cx="466.0" cy="457.4" r="2.85"/>
<circle cx="468.0" cy="457.4" r="2.85"/>
<circle cx="470.0" cy="457.4" r="2.85"/>
<circle cx="472.0" cy="457.4" r="2.85"/>
<circle cx="474.0" cy="457.4" r="2.85"/>
<circle cx="476.0" cy="457.4" r="2.85"/>
<circle cx="478.0" cy="457.4" r="2.85"/>
<circle cx="480.0" cy="457.4" r="2.85"/>
<circle cx="444.4" cy="454.4" r="2.85"/>
<circle cx="450.2" cy="455.6" r="2.85"/>
<circle cx="455.3" cy="456.5" r="2.85"/>
<circle cx="472.3" cy="454.6" r="2.85"/>
<circle cx="477.1" cy="456.5" r="2.85"/>
<circle cx="419.7" cy="458.3" r="2.85"/>
<circle cx="453.2" cy="458.0" r="2.85"/>
</g>
<path d="M334.5 478.5V336.5M359.5 478.5V336.5M384.5 478.5V336.5M409.5 478.5V336.5M435.5 478.5V336.5M460.5 478.5V336.5M483.5 478.5V336.5M324.5 439.5H489.5M324.5 465.5H489.5" stroke="#000" stroke-width="1.1" stroke-dasharray="1.06 1.74" fill="none"/>
<path d="M324.5 457.5H489.5" stroke="#000" stroke-width="1.2" fill="none"/>
<rect x="324.5" y="336.5" width="165.0" height="142.0" fill="none" stroke="#000" stroke-width="1.1"/>
<path d="M334.5 478.5v3.4M351.5 478.5v3.4M367.5 478.5v5.0M384.5 478.5v3.4M400.5 478.5v3.4M417.5 478.5v3.4M433.5 478.5v5.0M450.5 478.5v3.4M466.5 478.5v3.4M483.5 478.5v3.4M324.5 336.5h-5.0M324.5 362.5h-5.0M324.5 388.5h-5.0M324.5 413.5h-5.0M324.5 439.5h-5.0M324.5 465.5h-5.0" stroke="#000" stroke-width="1.1" fill="none"/>
<text x="297.76" y="339.95" font-family="'Liberation Sans', sans-serif" font-size="11.78" fill="#000" textLength="17.05" lengthAdjust="spacingAndGlyphs">1.0</text>
<text x="297.67" y="365.95" font-family="'Liberation Sans', sans-serif" font-size="11.78" fill="#000" textLength="17.25" lengthAdjust="spacingAndGlyphs">0.8</text>
<text x="297.67" y="391.95" font-family="'Liberation Sans', sans-serif" font-size="11.78" fill="#000" textLength="17.31" lengthAdjust="spacingAndGlyphs">0.6</text>
<text x="297.68" y="416.95" font-family="'Liberation Sans', sans-serif" font-size="11.78" fill="#000" textLength="17.14" lengthAdjust="spacingAndGlyphs">0.4</text>
<text x="297.68" y="442.95" font-family="'Liberation Sans', sans-serif" font-size="11.78" fill="#000" textLength="16.94" lengthAdjust="spacingAndGlyphs">0.2</text>
<text x="297.68" y="468.95" font-family="'Liberation Sans', sans-serif" font-size="11.78" fill="#000" textLength="17.14" lengthAdjust="spacingAndGlyphs">0.0</text>
<text x="350.01" y="495.70" font-family="'Liberation Sans', sans-serif" font-size="11.78" fill="#000" textLength="34.87" lengthAdjust="spacingAndGlyphs">60960</text>
<text x="416.01" y="495.70" font-family="'Liberation Sans', sans-serif" font-size="11.78" fill="#000" textLength="34.87" lengthAdjust="spacingAndGlyphs">61040</text>
<text x="381.55" y="511.90" font-family="'Liberation Sans', sans-serif" font-size="11.55" fill="#000" textLength="49.78" lengthAdjust="spacingAndGlyphs">MJD_OBS</text>
<text x="273.00" y="408.70" font-family="'Liberation Sans', sans-serif" font-size="11.55" fill="#000" textLength="25.83" lengthAdjust="spacingAndGlyphs" transform="rotate(-90 285.90 408.70)">pixel</text>
<text x="333.01" y="350.70" font-family="'Liberation Sans', sans-serif" font-size="11.55" fill="#000" textLength="56.18" lengthAdjust="spacingAndGlyphs">resel_max</text>
<circle cx="300.5" cy="315.4" r="9" fill="#0000ff"/>
<text x="297.50" y="319.00" font-family="'Liberation Sans', sans-serif" font-size="13.25" fill="#ffff99" textLength="6.90" lengthAdjust="spacingAndGlyphs">5</text>
<g fill="#008000">
<circle cx="574.8" cy="453.2" r="2.85"/>
<circle cx="576.8" cy="453.2" r="2.85"/>
<circle cx="578.8" cy="453.2" r="2.85"/>
<circle cx="580.8" cy="453.2" r="2.85"/>
<circle cx="582.8" cy="453.2" r="2.85"/>
<circle cx="584.9" cy="453.2" r="2.85"/>
<circle cx="586.9" cy="453.2" r="2.85"/>
<circle cx="588.9" cy="453.2" r="2.85"/>
<circle cx="590.9" cy="453.2" r="2.85"/>
<circle cx="592.9" cy="453.2" r="2.85"/>
<circle cx="594.9" cy="453.2" r="2.85"/>
<circle cx="596.9" cy="453.2" r="2.85"/>
<circle cx="598.9" cy="453.2" r="2.85"/>
<circle cx="600.9" cy="453.2" r="2.85"/>
<circle cx="602.9" cy="453.2" r="2.85"/>
<circle cx="604.9" cy="453.2" r="2.85"/>
<circle cx="607.0" cy="453.2" r="2.85"/>
<circle cx="609.0" cy="453.2" r="2.85"/>
<circle cx="611.0" cy="453.2" r="2.85"/>
<circle cx="613.0" cy="453.2" r="2.85"/>
<circle cx="615.0" cy="453.2" r="2.85"/>
<circle cx="617.0" cy="453.2" r="2.85"/>
<circle cx="619.0" cy="453.2" r="2.85"/>
<circle cx="589.1" cy="452.4" r="2.85"/>
<circle cx="579.3" cy="453.6" r="2.85"/>
<circle cx="596.1" cy="454.0" r="2.85"/>
<circle cx="607.4" cy="454.0" r="2.85"/>
<circle cx="612.3" cy="452.4" r="2.85"/>
<circle cx="617.2" cy="452.4" r="2.85"/>
<circle cx="657.8" cy="453.0" r="2.85"/>
<circle cx="659.8" cy="453.0" r="2.85"/>
<circle cx="661.8" cy="453.0" r="2.85"/>
<circle cx="663.9" cy="453.0" r="2.85"/>
<circle cx="665.9" cy="453.0" r="2.85"/>
<circle cx="667.9" cy="453.0" r="2.85"/>
<circle cx="669.9" cy="453.0" r="2.85"/>
<circle cx="671.9" cy="453.0" r="2.85"/>
<circle cx="673.9" cy="453.0" r="2.85"/>
<circle cx="675.9" cy="453.0" r="2.85"/>
<circle cx="678.0" cy="453.0" r="2.85"/>
<circle cx="680.0" cy="453.0" r="2.85"/>
<circle cx="682.0" cy="453.0" r="2.85"/>
<circle cx="684.0" cy="453.0" r="2.85"/>
<circle cx="686.0" cy="453.0" r="2.85"/>
<circle cx="688.0" cy="453.0" r="2.85"/>
<circle cx="690.0" cy="453.0" r="2.85"/>
<circle cx="692.1" cy="453.0" r="2.85"/>
<circle cx="694.1" cy="453.0" r="2.85"/>
<circle cx="696.1" cy="453.0" r="2.85"/>
<circle cx="698.1" cy="453.0" r="2.85"/>
<circle cx="700.1" cy="453.0" r="2.85"/>
<circle cx="702.1" cy="453.0" r="2.85"/>
<circle cx="704.2" cy="453.0" r="2.85"/>
<circle cx="706.2" cy="453.0" r="2.85"/>
<circle cx="708.2" cy="453.0" r="2.85"/>
<circle cx="710.2" cy="453.0" r="2.85"/>
<circle cx="712.2" cy="453.0" r="2.85"/>
<circle cx="714.2" cy="453.0" r="2.85"/>
<circle cx="716.2" cy="453.0" r="2.85"/>
<circle cx="718.3" cy="453.0" r="2.85"/>
<circle cx="720.3" cy="453.0" r="2.85"/>
<circle cx="722.3" cy="453.0" r="2.85"/>
<circle cx="686.2" cy="445.1" r="2.85"/>
<circle cx="692.2" cy="447.6" r="2.85"/>
<circle cx="697.5" cy="449.0" r="2.85"/>
<circle cx="696.4" cy="453.5" r="2.85"/>
<circle cx="692.5" cy="448.7" r="2.85"/>
<circle cx="697.3" cy="451.0" r="2.85"/>
<circle cx="714.5" cy="447.6" r="2.85"/>
<circle cx="720.4" cy="450.7" r="2.85"/>
<circle cx="715.3" cy="452.0" r="2.85"/>
<circle cx="722.0" cy="451.0" r="2.85"/>
<circle cx="709.0" cy="450.0" r="2.85"/>
<circle cx="711.5" cy="448.5" r="2.85"/>
<circle cx="717.5" cy="449.0" r="2.85"/>
<circle cx="719.5" cy="450.5" r="2.85"/>
<circle cx="701.0" cy="451.5" r="2.85"/>
<circle cx="704.0" cy="451.5" r="2.85"/>
</g>
<path d="M576.5 478.5V336.5M601.5 478.5V336.5M626.5 478.5V336.5M651.5 478.5V336.5M677.5 478.5V336.5M702.5 478.5V336.5M725.5 478.5V336.5M567.5 428.5H731.5" stroke="#000" stroke-width="1.1" stroke-dasharray="1.06 1.74" fill="none"/>
<path d="M567.5 452.5H731.5" stroke="#000" stroke-width="1.2" fill="none"/>
<rect x="567.5" y="336.5" width="164.0" height="142.0" fill="none" stroke="#000" stroke-width="1.1"/>
<path d="M576.5 478.5v3.4M593.5 478.5v3.4M609.5 478.5v5.0M626.5 478.5v3.4M642.5 478.5v3.4M659.5 478.5v3.4M675.5 478.5v5.0M692.5 478.5v3.4M708.5 478.5v3.4M725.5 478.5v3.4M567.5 336.5h-5.0M567.5 364.5h-5.0M567.5 393.5h-5.0M567.5 421.5h-5.0M567.5 450.5h-5.0M567.5 478.5h-5.0" stroke="#000" stroke-width="1.1" fill="none"/>
<text x="532.21" y="339.95" font-family="'Liberation Sans', sans-serif" font-size="11.78" fill="#000" textLength="24.21" lengthAdjust="spacingAndGlyphs">0.10</text>
<text x="532.21" y="367.95" font-family="'Liberation Sans', sans-serif" font-size="11.78" fill="#000" textLength="24.32" lengthAdjust="spacingAndGlyphs">0.08</text>
<text x="532.21" y="396.95" font-family="'Liberation Sans', sans-serif" font-size="11.78" fill="#000" textLength="24.37" lengthAdjust="spacingAndGlyphs">0.06</text>
<text x="532.21" y="424.95" font-family="'Liberation Sans', sans-serif" font-size="11.78" fill="#000" textLength="24.21" lengthAdjust="spacingAndGlyphs">0.04</text>
<text x="532.21" y="453.95" font-family="'Liberation Sans', sans-serif" font-size="11.78" fill="#000" textLength="24.01" lengthAdjust="spacingAndGlyphs">0.02</text>
<text x="532.21" y="481.95" font-family="'Liberation Sans', sans-serif" font-size="11.78" fill="#000" textLength="24.21" lengthAdjust="spacingAndGlyphs">0.00</text>
<text x="592.01" y="495.70" font-family="'Liberation Sans', sans-serif" font-size="11.78" fill="#000" textLength="34.87" lengthAdjust="spacingAndGlyphs">60960</text>
<text x="658.01" y="495.70" font-family="'Liberation Sans', sans-serif" font-size="11.78" fill="#000" textLength="34.87" lengthAdjust="spacingAndGlyphs">61040</text>
<text x="624.05" y="511.90" font-family="'Liberation Sans', sans-serif" font-size="11.55" fill="#000" textLength="49.78" lengthAdjust="spacingAndGlyphs">MJD_OBS</text>
<text x="512.10" y="408.70" font-family="'Liberation Sans', sans-serif" font-size="11.55" fill="#000" textLength="25.83" lengthAdjust="spacingAndGlyphs" transform="rotate(-90 525.00 408.70)">pixel</text>
<text x="575.02" y="350.70" font-family="'Liberation Sans', sans-serif" font-size="11.55" fill="#000" textLength="52.95" lengthAdjust="spacingAndGlyphs">resel_rms</text>
<circle cx="542.5" cy="315.4" r="9" fill="#0000ff"/>
<text x="539.20" y="319.00" font-family="'Liberation Sans', sans-serif" font-size="13.25" fill="#ffff99" textLength="7.61" lengthAdjust="spacingAndGlyphs">6</text></svg>
</body></html>
